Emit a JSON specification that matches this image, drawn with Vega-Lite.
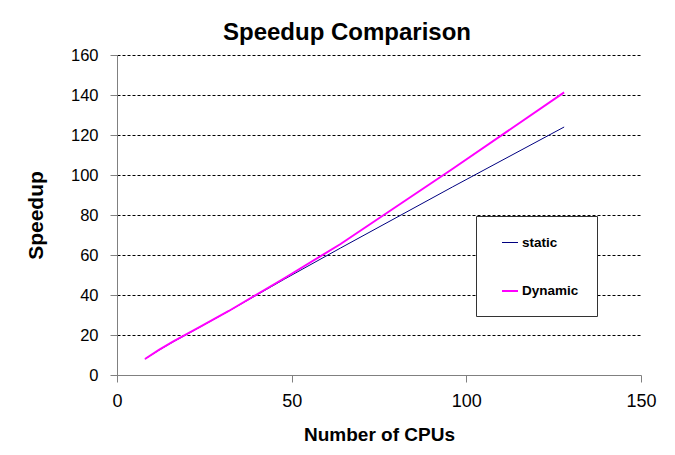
{
  "$schema": "https://vega.github.io/schema/vega-lite/v6.json",
  "autosize": "none",
  "width": 524,
  "height": 320,
  "padding": {"left": 117, "top": 55, "right": 34, "bottom": 80},
  "background": "white",
  "title": {
    "text": "Speedup Comparison",
    "font": "Liberation Sans",
    "fontSize": 24,
    "fontWeight": "bold",
    "color": "black",
    "anchor": "middle",
    "dx": -32,
    "offset": 2
  },
  "config": {
    "view": {"stroke": null},
    "font": "Liberation Sans"
  },
  "data": {
    "values": [
      {"cpus": 8, "speedup": 8, "series": "static"},
      {"cpus": 12, "speedup": 12.4, "series": "static"},
      {"cpus": 16, "speedup": 16.5, "series": "static"},
      {"cpus": 24, "speedup": 24.2, "series": "static"},
      {"cpus": 32, "speedup": 32, "series": "static"},
      {"cpus": 48, "speedup": 48, "series": "static"},
      {"cpus": 64, "speedup": 63.5, "series": "static"},
      {"cpus": 96, "speedup": 94, "series": "static"},
      {"cpus": 128, "speedup": 124, "series": "static"},
      {"cpus": 8, "speedup": 8, "series": "Dynamic"},
      {"cpus": 12, "speedup": 12.6, "series": "Dynamic"},
      {"cpus": 16, "speedup": 16.7, "series": "Dynamic"},
      {"cpus": 24, "speedup": 24.3, "series": "Dynamic"},
      {"cpus": 32, "speedup": 32, "series": "Dynamic"},
      {"cpus": 48, "speedup": 48.5, "series": "Dynamic"},
      {"cpus": 64, "speedup": 65.5, "series": "Dynamic"},
      {"cpus": 96, "speedup": 103, "series": "Dynamic"},
      {"cpus": 128, "speedup": 141.3, "series": "Dynamic"}
    ]
  },
  "mark": {"type": "line", "interpolate": "linear"},
  "encoding": {
    "x": {
      "field": "cpus",
      "type": "quantitative",
      "scale": {"domain": [0, 150], "nice": false},
      "axis": {
        "values": [0, 50, 100, 150],
        "grid": false,
        "title": "Number of CPUs",
        "titleFontSize": 19,
        "titleFontWeight": "bold",
        "titleColor": "black",
        "titlePadding": 15,
        "labelFontSize": 18,
        "labelColor": "black",
        "labelPadding": 10,
        "tickSize": 7,
        "tickColor": "#808080",
        "domainColor": "#808080",
        "labelFlush": false
      }
    },
    "y": {
      "field": "speedup",
      "type": "quantitative",
      "scale": {"domain": [0, 160], "nice": false},
      "axis": {
        "values": [0, 20, 40, 60, 80, 100, 120, 140, 160],
        "grid": true,
        "gridColor": "black",
        "gridDash": [3, 2],
        "gridWidth": 1,
        "title": "Speedup",
        "titleFontSize": 21,
        "titleFontWeight": "bold",
        "titleColor": "black",
        "titlePadding": 24,
        "labelFontSize": 16.5,
        "labelColor": "black",
        "labelPadding": 12,
        "tickSize": 7,
        "tickColor": "#808080",
        "domainColor": "#808080"
      }
    },
    "color": {
      "field": "series",
      "type": "nominal",
      "scale": {"domain": ["static", "Dynamic"], "range": ["#000080", "#FF00FF"]},
      "legend": {
        "title": null,
        "orient": "none",
        "legendX": 359,
        "legendY": 161,
        "strokeColor": "#333",
        "fillColor": "white",
        "padding": 18,
        "rowPadding": 33,
        "labelFontSize": 13.5,
        "labelFontWeight": "bold",
        "labelColor": "black",
        "symbolType": "stroke",
        "symbolSize": 256,
        "symbolOffset": 7,
        "labelOffset": 3
      }
    },
    "strokeWidth": {
      "field": "series",
      "type": "nominal",
      "scale": {"domain": ["static", "Dynamic"], "range": [1, 2]},
      "legend": null
    }
  }
}
